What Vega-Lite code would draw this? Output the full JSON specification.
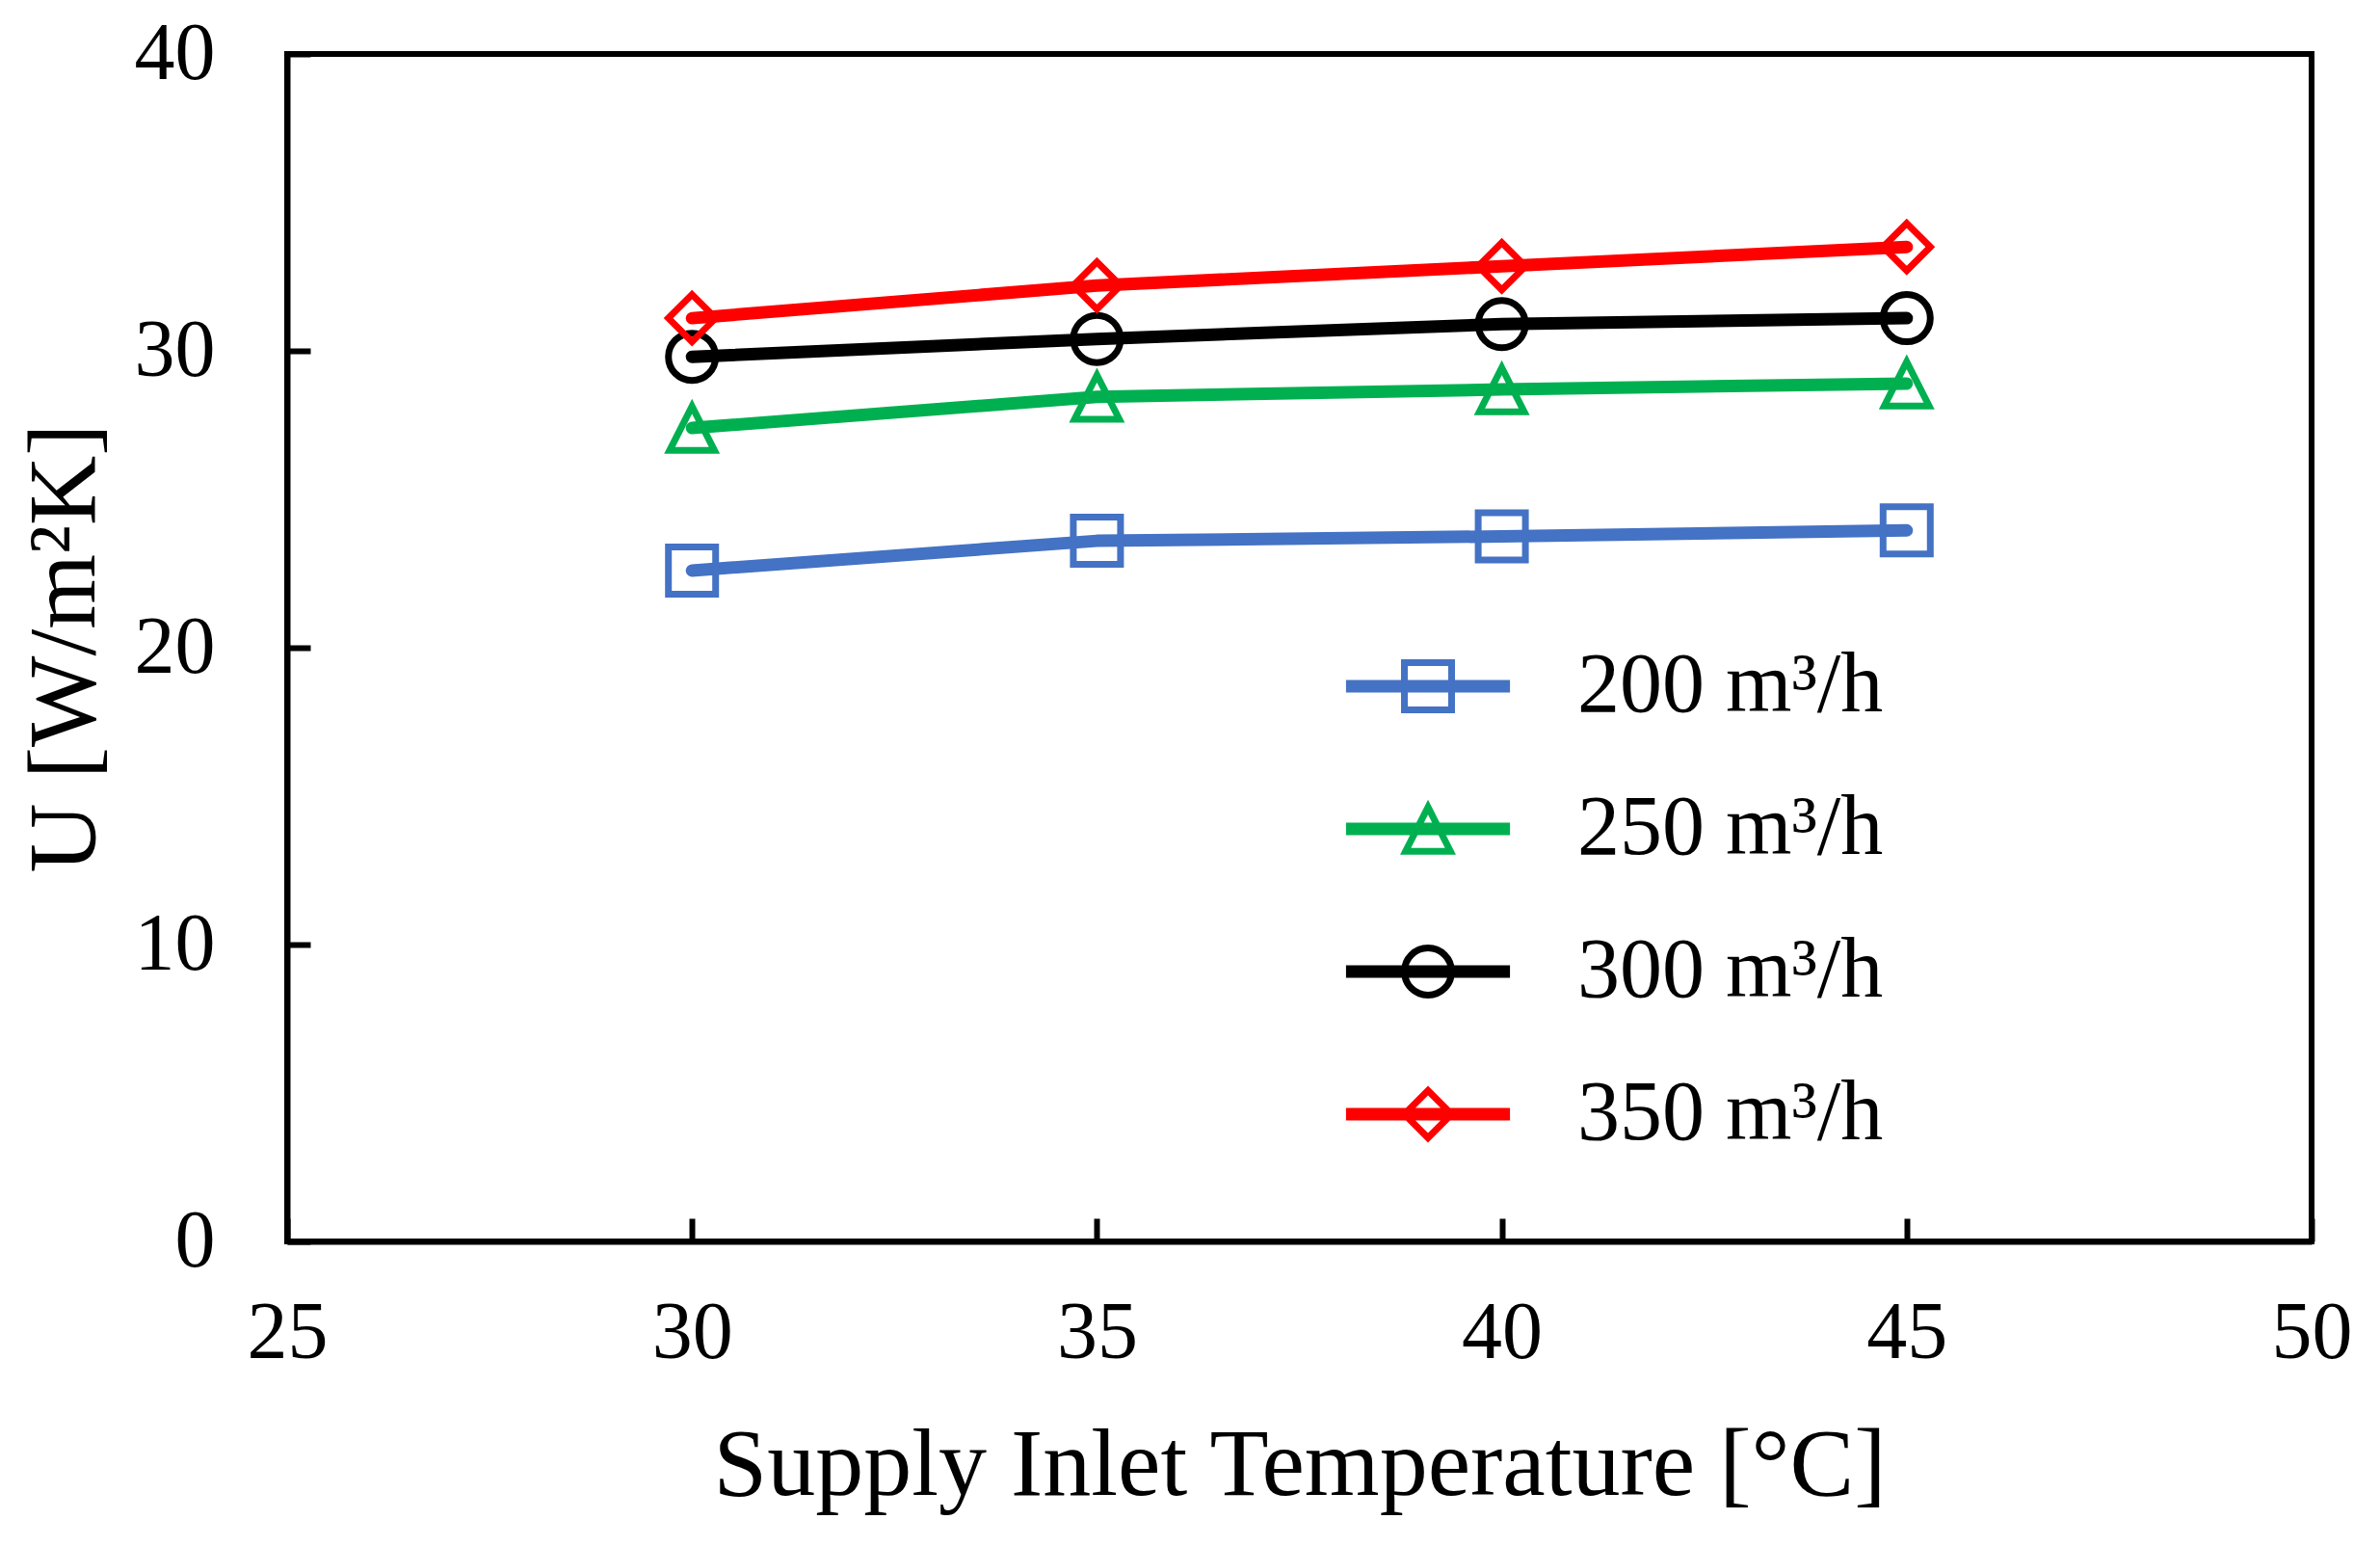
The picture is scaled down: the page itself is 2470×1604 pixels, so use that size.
{
  "$schema": "https://vega.github.io/schema/vega-lite/v6.json",
  "width": 2101,
  "height": 1232,
  "autosize": {"type": "none"},
  "padding": {"left": 298, "top": 56, "right": 71, "bottom": 316},
  "background": "white",
  "data": {
    "values": [
      {"flow": "200 m³/h", "temp": 30, "U": 22.6},
      {"flow": "200 m³/h", "temp": 35, "U": 23.6},
      {"flow": "200 m³/h", "temp": 40, "U": 23.75},
      {"flow": "200 m³/h", "temp": 45, "U": 23.95},
      {"flow": "250 m³/h", "temp": 30, "U": 27.4},
      {"flow": "250 m³/h", "temp": 35, "U": 28.45},
      {"flow": "250 m³/h", "temp": 40, "U": 28.7},
      {"flow": "250 m³/h", "temp": 45, "U": 28.9},
      {"flow": "300 m³/h", "temp": 30, "U": 29.8},
      {"flow": "300 m³/h", "temp": 35, "U": 30.4},
      {"flow": "300 m³/h", "temp": 40, "U": 30.9},
      {"flow": "300 m³/h", "temp": 45, "U": 31.1},
      {"flow": "350 m³/h", "temp": 30, "U": 31.1},
      {"flow": "350 m³/h", "temp": 35, "U": 32.2},
      {"flow": "350 m³/h", "temp": 40, "U": 32.85},
      {"flow": "350 m³/h", "temp": 45, "U": 33.5}
    ]
  },
  "layer": [
    {
      "mark": {"type": "line", "strokeWidth": 13, "strokeCap": "round", "strokeJoin": "round"},
      "encoding": {
        "x": {
          "field": "temp",
          "type": "quantitative",
          "scale": {"domain": [25, 50], "nice": false},
          "axis": {
            "values": [25, 30, 35, 40, 45, 50],
            "format": "d",
            "labelPadding": 78,
            "title": "Supply Inlet Temperature [°C]",
            "titleY": 262,
            "titleBaseline": "alphabetic"
          }
        },
        "y": {
          "field": "U",
          "type": "quantitative",
          "scale": {"domain": [0, 40], "nice": false},
          "axis": {
            "values": [0, 10, 20, 30, 40],
            "format": "d",
            "labelPadding": 99,
            "title": "U [W/m²K]",
            "titleX": -201,
            "titleY": 616,
            "titleBaseline": "alphabetic"
          }
        },
        "color": {
          "field": "flow",
          "type": "nominal",
          "scale": {
            "domain": ["200 m³/h", "250 m³/h", "300 m³/h", "350 m³/h"],
            "range": ["#4472C4", "#00B050", "#000000", "#FF0000"]
          },
          "legend": null
        }
      }
    },
    {
      "mark": {"type": "point", "filled": false, "strokeWidth": 7, "size": 2401, "opacity": 1},
      "encoding": {
        "x": {"field": "temp", "type": "quantitative"},
        "y": {"field": "U", "type": "quantitative"},
        "color": {
          "field": "flow",
          "type": "nominal",
          "scale": {
            "domain": ["200 m³/h", "250 m³/h", "300 m³/h", "350 m³/h"],
            "range": ["#4472C4", "#00B050", "#000000", "#FF0000"]
          },
          "legend": null
        },
        "shape": {
          "field": "flow",
          "type": "nominal",
          "scale": {
            "domain": ["200 m³/h", "250 m³/h", "300 m³/h", "350 m³/h"],
            "range": [
              "M-1,-1H1V1H-1Z",
              "M0,-0.92L0.95,0.95H-0.95Z",
              "M1,0A1,1 0 1,1 -1,0A1,1 0 1,1 1,0Z",
              "M0,-1L1,0L0,1L-1,0Z"
            ]
          },
          "legend": null
        }
      }
    },
    {
      "transform": [{"filter": "datum.U < 0"}],
      "mark": {"type": "point", "filled": false, "strokeWidth": 7, "size": 2401, "opacity": 1},
      "encoding": {
        "x": {"field": "temp", "type": "quantitative"},
        "y": {"field": "U", "type": "quantitative"},
        "color": {
          "field": "flow",
          "type": "nominal",
          "scale": {
            "domain": ["200 m³/h", "250 m³/h", "300 m³/h", "350 m³/h"],
            "range": ["#4472C4", "#00B050", "#000000", "#FF0000"]
          }
        },
        "shape": {
          "field": "flow",
          "type": "nominal",
          "scale": {
            "domain": ["200 m³/h", "250 m³/h", "300 m³/h", "350 m³/h"],
            "range": [
              "M-3.33,-0.12H3.33V0.12H-3.33Z M-1,-1H1V1H-1Z",
              "M-3.33,-0.12H3.33V0.12H-3.33Z M0,-0.92L0.95,0.95H-0.95Z",
              "M-3.33,-0.12H3.33V0.12H-3.33Z M1,0A1,1 0 1,1 -1,0A1,1 0 1,1 1,0Z",
              "M-3.33,-0.12H3.33V0.12H-3.33Z M0,-1L1,0L0,1L-1,0Z"
            ]
          }
        }
      }
    }
  ],
  "resolve": {"scale": {"color": "independent", "shape": "independent"}},
  "config": {
    "view": {"stroke": "black", "strokeWidth": 6},
    "axis": {
      "grid": false,
      "domainColor": "black",
      "domainWidth": 6,
      "tickColor": "black",
      "tickWidth": 6,
      "tickSize": -24,
      "labelFont": "Liberation Serif",
      "labelFontSize": 84,
      "labelColor": "black",
      "labelFlush": false,
      "labelOverlap": false,
      "titleFont": "Liberation Serif",
      "titleFontSize": 100,
      "titleFontWeight": "normal",
      "titleColor": "black"
    },
    "legend": {
      "orient": "none",
      "legendX": 1140,
      "legendY": 612,
      "title": null,
      "padding": 0,
      "labelFont": "Liberation Serif",
      "labelFontSize": 88,
      "labelColor": "black",
      "labelLimit": 0,
      "labelOffset": 111,
      "rowPadding": 60,
      "symbolSize": 2401,
      "symbolStrokeWidth": 7,
      "symbolOpacity": 1
    }
  }
}
